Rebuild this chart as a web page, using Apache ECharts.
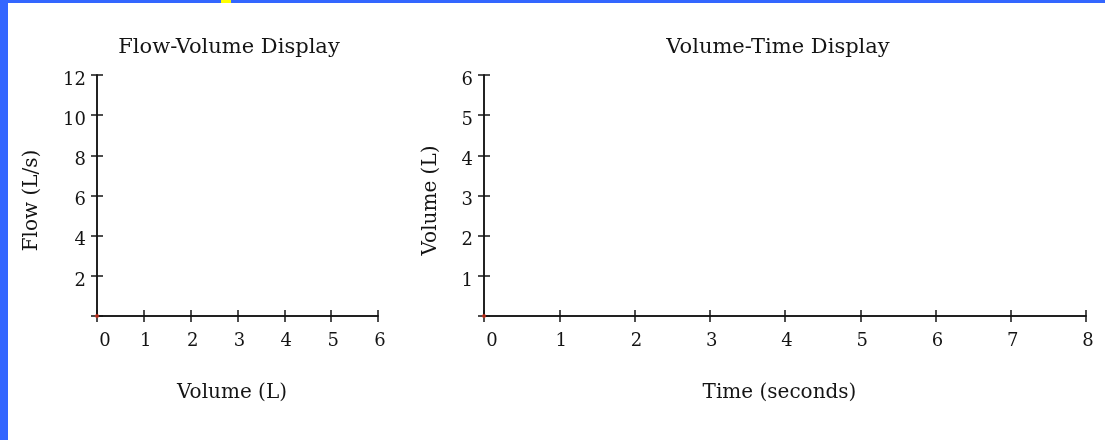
<!DOCTYPE html>
<html>
<head>
<meta charset="utf-8">
<script src="https://cdn.jsdelivr.net/npm/echarts@6/dist/echarts.min.js"></script>
<style>
  html, body { margin: 0; padding: 0; background: #ffffff; }
  #chart { width: 1105px; height: 440px; }
</style>
</head>
<body>
<div id="chart"></div>
<script>
// Panel titles and axis names
const flowVolumeTitle = 'Flow-Volume Display';
const volumeTimeTitle = 'Volume-Time Display';
const flowVolumeXName = 'Volume (L)';
const flowVolumeYName = 'Flow (L/s)';
const volumeTimeXName = 'Time (seconds)';
const volumeTimeYName = 'Volume (L)';

// Tick values of each axis
const volumeTicks = [0, 1, 2, 3, 4, 5, 6];
const flowTicks = [0, 2, 4, 6, 8, 10, 12];
const timeTicks = [0, 1, 2, 3, 4, 5, 6, 7, 8];
const volumeTimeYTicks = [0, 1, 2, 3, 4, 5, 6];

// Recorded samples (only the starting point so far)
const flowVolumePoints = [[0, 0]];
const volumeTimePoints = [[0, 0]];

const FONT = 'DejaVu Serif';
const INK = '#141414';

// Plot rectangles of the two panels
const panels = [
  { left: 97, top: 75, width: 281, height: 241 },
  { left: 484, top: 75, width: 602, height: 241 }
];

function range(ticks) {
  return { min: ticks[0], max: ticks[ticks.length - 1], interval: ticks[1] - ticks[0] };
}

// Main axis: line, outward ticks and labels
function mainAxis(dim, grid, ticks, name, opts) {
  const r = range(ticks);
  const isX = dim === 'x';
  return Object.assign({
    type: 'value',
    gridIndex: grid,
    min: r.min, max: r.max, interval: r.interval,
    position: isX ? 'bottom' : 'left',
    name: name,
    nameLocation: 'middle',
    nameRotate: isX ? 0 : 90,
    nameTextStyle: isX
      ? { fontFamily: FONT, fontSize: 20, color: INK, padding: [0, 11, 0, 0] }
      : { fontFamily: FONT, fontSize: 20, color: INK, padding: [0, 10, 0, 0] },
    splitLine: { show: false },
    axisLine: { show: true, onZero: false, lineStyle: { color: INK, width: 1.5 } },
    axisTick: { show: true, inside: false, length: 6, lineStyle: { color: INK, width: 1.5 } },
    axisLabel: isX ? {
      show: true, fontFamily: FONT, fontSize: 18, color: INK, margin: 16,
      formatter: function (v) { return v === 0 ? '{z|0}' : '{n|' + v + '}'; },
      rich: {
        z: { fontFamily: FONT, fontSize: 18, color: INK, padding: [0, 0, 0, 16] },
        n: { fontFamily: FONT, fontSize: 18, color: INK, padding: [0, 0, 0, 4] }
      }
    } : {
      show: true, fontFamily: FONT, fontSize: 18, color: INK, margin: 11,
      formatter: function (v) { return v === 0 ? '' : '{n|' + v + '}'; },
      rich: {
        n: { fontFamily: FONT, fontSize: 18, color: INK, padding: [10, 0, 0, 0] }
      }
    }
  }, opts || {});
}

// Companion axis on an overlaid grid: inward half of the crossing tick marks
function innerTicks(dim, grid, ticks) {
  const r = range(ticks);
  const isX = dim === 'x';
  return {
    type: 'value',
    gridIndex: grid,
    min: r.min, max: r.max, interval: r.interval,
    position: isX ? 'bottom' : 'left',
    splitLine: { show: false },
    axisLine: { show: true, onZero: false, lineStyle: { color: INK, width: 1.5 } },
    axisTick: { show: true, inside: true, length: 6, lineStyle: { color: INK, width: 1.5 } },
    axisLabel: { show: false }
  };
}

const chart = echarts.init(document.getElementById('chart'), null, { renderer: 'canvas' });

chart.setOption({
  backgroundColor: '#ffffff',
  animation: false,
  title: [
    { text: flowVolumeTitle, left: 224, top: 32, textAlign: 'center',
      textStyle: { fontFamily: FONT, fontSize: 21, fontWeight: 'normal', color: INK } },
    { text: volumeTimeTitle, left: 773, top: 32, textAlign: 'center',
      textStyle: { fontFamily: FONT, fontSize: 21, fontWeight: 'normal', color: INK } }
  ],
  grid: [
    panels[0], panels[1],
    Object.assign({}, panels[0]), Object.assign({}, panels[1])
  ],
  xAxis: [
    mainAxis('x', 0, volumeTicks, flowVolumeXName, { nameGap: 67 }),
    mainAxis('x', 1, timeTicks, volumeTimeXName, { nameGap: 67 }),
    innerTicks('x', 2, volumeTicks),
    innerTicks('x', 3, timeTicks)
  ],
  yAxis: [
    mainAxis('y', 0, flowTicks, flowVolumeYName, { nameGap: 55 }),
    mainAxis('y', 1, volumeTimeYTicks, volumeTimeYName, { nameGap: 43 }),
    innerTicks('y', 2, flowTicks),
    innerTicks('y', 3, volumeTimeYTicks)
  ],
  series: [
    { type: 'scatter', xAxisIndex: 2, yAxisIndex: 2, data: [], silent: true },
    { type: 'scatter', xAxisIndex: 3, yAxisIndex: 3, data: [], silent: true },
    { type: 'scatter', xAxisIndex: 0, yAxisIndex: 0, data: flowVolumePoints,
      symbol: 'circle', symbolSize: 4, itemStyle: { color: '#d8321c' }, z: 5 },
    { type: 'scatter', xAxisIndex: 1, yAxisIndex: 1, data: volumeTimePoints,
      symbol: 'circle', symbolSize: 4, itemStyle: { color: '#d8321c' }, z: 5 }
  ],
  graphic: [
    // Window frame: blue strips along the top and left edges, yellow marker on top
    { type: 'rect', left: 0, top: 0, shape: { width: 1105, height: 3 }, style: { fill: '#3366ff' }, silent: true },
    { type: 'rect', left: 0, top: 0, shape: { width: 8, height: 440 }, style: { fill: '#3366ff' }, silent: true },
    { type: 'rect', left: 221, top: 0, shape: { width: 10, height: 3 }, style: { fill: '#ffff00' }, silent: true }
  ]
});
</script>
</body>
</html>
